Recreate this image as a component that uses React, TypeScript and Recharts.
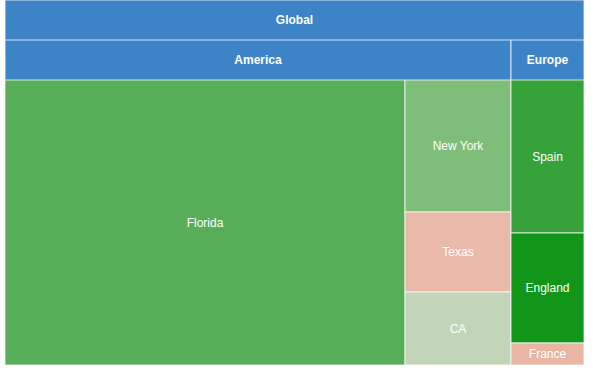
import React from 'react';
import { Treemap } from 'recharts';

// leaf values
const americaStates = ['Florida', 'New York', 'Texas', 'CA'];
const americaValues = [113.4, 13.9, 8.4, 7.8];
const europeCountries = ['Spain', 'England', 'France'];
const europeValues = [11.1, 8.0, 1.6];

const leafColors: Record<string, string> = {
  Florida: '#58ae58',
  'New York': '#7fbd7a',
  Texas: '#e9b9aa',
  CA: '#c3d5b8',
  Spain: '#35a33a',
  England: '#129619',
  France: '#e9b5a5',
};
const headerColor = '#3d84c6';
const font = "Arial, 'Liberation Sans', sans-serif";

const sum = (arr: number[]) => arr.reduce((s, v) => s + v, 0);

const groups = [
  { name: 'America', children: americaStates.map((name, i) => ({ name, value: americaValues[i] })) },
  { name: 'Europe', children: europeCountries.map((name, i) => ({ name, value: europeValues[i] })) },
];
const headerData = [
  { name: 'America', value: sum(americaValues) },
  { name: 'Europe', value: sum(europeValues) },
];
const globalData = [{ name: 'Global', value: sum(americaValues) + sum(europeValues) }];

const W = 579;

const makeCell = (drawDepth: number, header: boolean) => (props: any) => {
  const { x, y, width, height, name, depth } = props;
  if (depth !== drawDepth) return <g />;
  const fill = header ? headerColor : leafColors[name] || '#999';
  return (
    <g>
      <rect x={x} y={y} width={width} height={height} fill={fill} stroke="#ffffff" strokeOpacity={0.75} strokeWidth={1} />
      <text
        x={x + width / 2}
        y={y + height / 2}
        textAnchor="middle"
        dominantBaseline="central"
        fill="#ffffff"
        fontSize={12}
        fontFamily={font}
        fontWeight={header ? 'bold' : 'normal'}
      >
        {name}
      </text>
    </g>
  );
};

export default function App() {
  return (
    <div style={{ width: 600, height: 371, paddingLeft: 5, boxSizing: 'border-box', background: '#fff' }}>
      <style>{'body{margin:0}'}</style>
      <Treemap
        width={W}
        height={40}
        data={globalData}
        dataKey="value"
        nameKey="name"
        aspectRatio={1}
        isAnimationActive={false}
        content={makeCell(1, true)}
      />
      <Treemap
        width={W}
        height={40}
        data={headerData}
        dataKey="value"
        nameKey="name"
        aspectRatio={1}
        isAnimationActive={false}
        content={makeCell(1, true)}
      />
      <Treemap
        width={W}
        height={285}
        data={groups}
        dataKey="value"
        nameKey="name"
        aspectRatio={1}
        isAnimationActive={false}
        content={makeCell(2, false)}
      />
    </div>
  );
}
